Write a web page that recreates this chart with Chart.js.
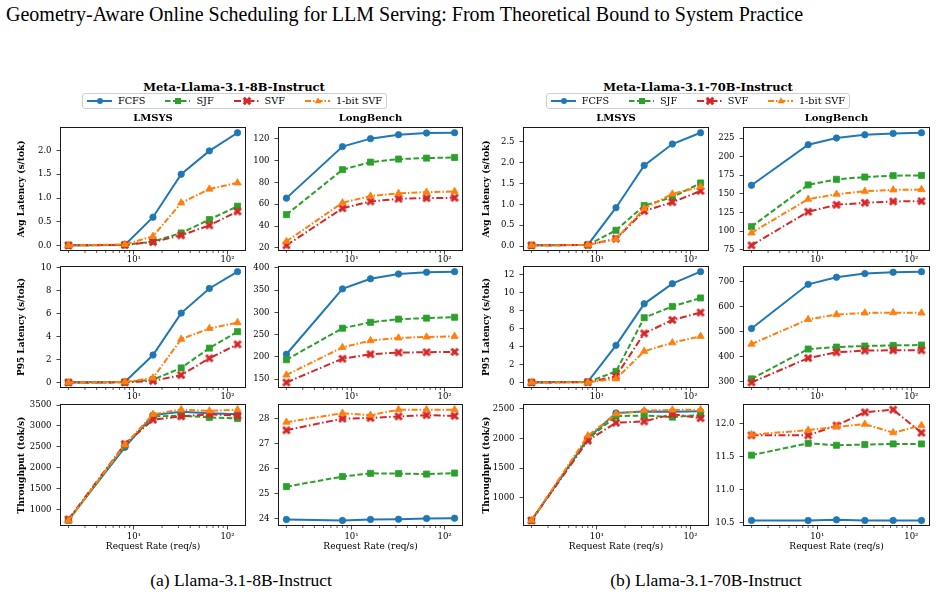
<!DOCTYPE html>
<html>
<head>
<meta charset="utf-8">
<script src="https://cdn.jsdelivr.net/npm/chart.js@4.4.1/dist/chart.umd.min.js"></script>
<style>
  body { margin: 0; background: #fff; width: 937px; height: 594px; position: relative; overflow: hidden; font-family: "DejaVu Serif", serif; color: #000; }
  .abs { position: absolute; white-space: nowrap; }
  #title { left: 6px; top: 3px; font-family: "Liberation Serif", "Times New Roman", serif; font-size: 20px; line-height: 22px; }
  .sup { font-weight: bold; font-size: 11.5px; line-height: 14px; transform: translateX(-50%); }
  .ptitle { font-weight: bold; font-size: 10px; line-height: 12px; transform: translateX(-50%); }
  .caption { font-family: "Liberation Serif", "Times New Roman", serif; font-size: 17.5px; line-height: 20px; transform: translateX(-50%); }
  .legend { display: flex; align-items: center; box-sizing: border-box; height: 16px; padding: 0 4px;
            border: 1px solid #d0d0d0; border-radius: 3px; background: #fff; font-size: 9.7px; gap: 6px; }
  .legend span { margin-right: 14px; }
  .legend span:last-child { margin-right: 0; }
  canvas { position: absolute; }
</style>
</head>
<body>
<div id="title" class="abs">Geometry-Aware Online Scheduling for LLM Serving: From Theoretical Bound to System Practice</div>
<script>
// ---- data ----
const rates = [2, 8, 16, 32, 64, 128];
const methods = ['FCFS', 'SJF', 'SVF', '1-bit SVF'];
const models = ['Meta-Llama-3.1-8B-Instruct', 'Meta-Llama-3.1-70B-Instruct'];
const captions = ['(a) Llama-3.1-8B-Instruct', '(b) Llama-3.1-70B-Instruct'];
const benchNames = ['LMSYS', 'LongBench'];
const metricLabels = ['Avg Latency (s/tok)', 'P95 Latency (s/tok)', 'Throughput (tok/s)'];
const xTickValues = [10, 100];
const xTickLabels = ['10\u00b9', '10\u00b2'];

// each: [FCFS, SJF, SVF, 1-bit SVF]
const avg8bLmsys = [
  [0.01, 0.02, 0.60, 1.50, 1.99, 2.37],
  [0.01, 0.02, 0.09, 0.27, 0.55, 0.83],
  [0.01, 0.02, 0.08, 0.22, 0.43, 0.72],
  [0.01, 0.03, 0.20, 0.90, 1.19, 1.32]
];
const avg8bLong = [
  [65.6, 112.7, 120.0, 123.6, 125.1, 125.4],
  [50.5, 91.6, 98.5, 101.3, 102.2, 102.8],
  [22.4, 56.3, 62.6, 65.0, 65.6, 65.9],
  [26.0, 61.4, 67.5, 70.0, 71.1, 71.7]
];
const p95_8bLmsys = [
  [0.02, 0.05, 2.39, 6.03, 8.17, 9.63],
  [0.01, 0.02, 0.25, 1.27, 2.99, 4.42],
  [0.01, 0.02, 0.15, 0.65, 2.11, 3.32],
  [0.01, 0.05, 0.40, 3.77, 4.70, 5.21]
];
const p95_8bLong = [
  [206, 352.6, 375.2, 386, 389.8, 391.3],
  [193.7, 264.4, 277.6, 284.8, 287, 289],
  [142.7, 196, 206, 209.8, 210.5, 211.2],
  [159.5, 221.4, 236.7, 242.6, 244.8, 246.2]
];
const tput8bLmsys = [
  [760, 2490, 3260, 3340, 3305, 3280],
  [750, 2530, 3230, 3245, 3205, 3180],
  [770, 2570, 3150, 3230, 3280, 3245],
  [745, 2550, 3280, 3390, 3360, 3390]
];
const tput8bLong = [
  [23.98, 23.94, 23.98, 23.99, 24.02, 24.03],
  [25.29, 25.69, 25.82, 25.81, 25.79, 25.83],
  [27.54, 28.00, 28.03, 28.09, 28.14, 28.11],
  [27.86, 28.22, 28.14, 28.36, 28.36, 28.36]
];
const avg70bLmsys = [
  [0.02, 0.03, 0.92, 1.93, 2.44, 2.71],
  [0.02, 0.03, 0.38, 0.97, 1.17, 1.51],
  [0.02, 0.03, 0.18, 0.84, 1.05, 1.32],
  [0.02, 0.03, 0.17, 0.90, 1.25, 1.42]
];
const avg70bLong = [
  [161.5, 216, 225, 229.4, 231.2, 232.1],
  [106, 162, 169.5, 172.6, 174.4, 174.8],
  [80.8, 126, 135.3, 138, 139.8, 140.2],
  [97.6, 142.9, 149.5, 153.5, 155.3, 155.8]
];
const p95_70bLmsys = [
  [0.05, 0.10, 4.16, 8.78, 11.02, 12.36],
  [0.03, 0.08, 1.26, 7.23, 8.49, 9.43],
  [0.03, 0.05, 0.72, 5.49, 6.98, 7.81],
  [0.03, 0.05, 0.43, 3.50, 4.45, 5.17]
];
const p95_70bLong = [
  [513, 689.6, 718, 732.5, 737.7, 740.3],
  [311.7, 431, 439, 443, 445.5, 446.8],
  [297.4, 394.8, 418, 424.7, 426, 426],
  [450.6, 549.4, 568.8, 575.3, 576.6, 575.3]
];
const tput70bLmsys = [
  [615, 2003, 2434, 2456, 2455, 2460],
  [615, 1990, 2379, 2390, 2362, 2400],
  [615, 1965, 2268, 2290, 2412, 2345],
  [615, 2048, 2417, 2472, 2483, 2489]
];
const tput70bLong = [
  [10.53, 10.53, 10.54, 10.53, 10.53, 10.53],
  [11.52, 11.70, 11.67, 11.68, 11.69, 11.69],
  [11.82, 11.82, 11.97, 12.17, 12.21, 11.86],
  [11.83, 11.90, 11.95, 11.99, 11.86, 11.97]
];

// y tick labels per panel
const yTicksAvg8bLmsys = [0, 0.5, 1, 1.5, 2];
const yTicksAvg8bLong = [20, 40, 60, 80, 100, 120];
const yTicksP95_8bLmsys = [0, 2, 4, 6, 8, 10];
const yTicksP95_8bLong = [150, 200, 250, 300, 350, 400];
const yTicksTput8bLmsys = [1000, 1500, 2000, 2500, 3000, 3500];
const yTicksTput8bLong = [24, 25, 26, 27, 28];
const yTicksAvg70bLmsys = [0, 0.5, 1, 1.5, 2, 2.5];
const yTicksAvg70bLong = [75, 100, 125, 150, 175, 200, 225];
const yTicksP95_70bLmsys = [0, 2, 4, 6, 8, 10, 12];
const yTicksP95_70bLong = [300, 400, 500, 600, 700];
const yTicksTput70bLmsys = [1000, 1500, 2000, 2500];
const yTicksTput70bLong = [10.5, 11.0, 11.5, 12.0];

// ---- styling ----
const colors = ['#1f77b4', '#2ca02c', '#d62728', '#ff7f0e'];
const dashes = [[], [5.5, 2.5], [7, 2.5, 1.5, 2.5], [6, 2, 1.5, 2]];
const FONT = '"DejaVu Serif", serif';

function xMarker(color) {
  const c = document.createElement('canvas');
  c.width = c.height = 10;
  const g = c.getContext('2d');
  g.fillStyle = color;
  g.translate(5, 5);
  g.rotate(Math.PI / 4);
  g.fillRect(-4.6, -1.5, 9.2, 3);
  g.fillRect(-1.5, -4.6, 3, 9.2);
  return c;
}
const pointStyles = ['circle', 'rect', xMarker(colors[2]), 'triangle'];
const pointRadii = [3.2, 4.3, 4, 4.2];

// geometry: [group][col] left,width ; rows top,height
const colBoxes = [[[60, 186], [278, 185]], [[523, 186], [743, 187]]];
const rowBoxes = [[125, 126], [264, 124], [402, 124]];
const yLabelX = [22, 487];
const supX = [234, 698];
const captionX = [241, 706];
const legendBox = [[82, 305], [546, 304]];

const panelData = [
  [[avg8bLmsys, yTicksAvg8bLmsys, 1], [avg8bLong, yTicksAvg8bLong, 0]],
  [[p95_8bLmsys, yTicksP95_8bLmsys, 0], [p95_8bLong, yTicksP95_8bLong, 0]],
  [[tput8bLmsys, yTicksTput8bLmsys, 0], [tput8bLong, yTicksTput8bLong, 0]],
  [[avg70bLmsys, yTicksAvg70bLmsys, 1], [avg70bLong, yTicksAvg70bLong, 0]],
  [[p95_70bLmsys, yTicksP95_70bLmsys, 0], [p95_70bLong, yTicksP95_70bLong, 0]],
  [[tput70bLmsys, yTicksTput70bLmsys, 0], [tput70bLong, yTicksTput70bLong, 1]]
];

const lr = [Math.log10(rates[0]), Math.log10(rates[rates.length - 1])];
const xMin = Math.pow(10, lr[0] - 0.05 * (lr[1] - lr[0]));
const xMax = Math.pow(10, lr[1] + 0.05 * (lr[1] - lr[0]));
const minorTicks = [];
[1, 10, 100].forEach(d => { for (let k = 2; k <= 9; k++) minorTicks.push(k * d); });

const framePlugin = {
  id: 'frame',
  afterDraw(chart) {
    const { ctx, chartArea: a } = chart;
    const x = chart.scales.x;
    ctx.save();
    ctx.strokeStyle = '#1a1a1a';
    ctx.lineWidth = 1;
    ctx.strokeRect(Math.round(a.left) + 0.5, Math.round(a.top) + 0.5, Math.round(a.width) - 1, Math.round(a.height) - 1);
    ctx.lineWidth = 0.7;
    ctx.beginPath();
    minorTicks.forEach(v => {
      if (v < xMin || v > xMax) return;
      const px = x.getPixelForValue(v);
      ctx.moveTo(px, a.bottom);
      ctx.lineTo(px, a.bottom + 2);
    });
    ctx.stroke();
    ctx.restore();
  }
};

function addDiv(cls, text, left, top, extra) {
  const d = document.createElement('div');
  d.className = 'abs ' + cls;
  d.textContent = text;
  d.style.left = left + 'px';
  d.style.top = top + 'px';
  if (extra) Object.assign(d.style, extra);
  document.body.appendChild(d);
  return d;
}

function legendSvg(i) {
  const c = colors[i];
  const dash = dashes[i].length ? `stroke-dasharray="${dashes[i].join(',')}"` : '';
  let mk = '';
  if (i === 0) mk = `<circle cx="13" cy="5" r="3" fill="${c}"/>`;
  if (i === 1) mk = `<rect x="10" y="2" width="6" height="6" fill="${c}"/>`;
  if (i === 2) mk = `<g transform="translate(13,5) rotate(45)" fill="${c}"><rect x="-4.6" y="-1.5" width="9.2" height="3"/><rect x="-1.5" y="-4.6" width="3" height="9.2"/></g>`;
  if (i === 3) mk = `<polygon points="13,1.2 16.5,7.2 9.5,7.2" fill="${c}"/>`;
  return `<svg width="26" height="10"><line x1="0" y1="5" x2="26" y2="5" stroke="${c}" stroke-width="2" ${dash}/>${mk}</svg>`;
}

function makePanel(group, row, col) {
  const [vals, yTicks, dec] = panelData[group * 3 + row][col];
  const [left, w] = colBoxes[group][col];
  const [top, h] = rowBoxes[row];
  const padL = col === 0 ? 60 : 40;
  const padT = 8, padR = 6;
  const padB = row === 2 ? 28 : 14;
  const cv = document.createElement('canvas');
  cv.width = padL + w + padR;
  cv.height = padT + h + padB;
  cv.style.left = (left - padL) + 'px';
  cv.style.top = (top - padT) + 'px';
  document.body.appendChild(cv);

  let lo = Infinity, hi = -Infinity;
  vals.forEach(s => s.forEach(v => { lo = Math.min(lo, v); hi = Math.max(hi, v); }));
  const m = 0.05 * (hi - lo);

  const datasets = vals.map((s, i) => ({
    label: methods[i],
    data: s.map((v, j) => ({ x: rates[j], y: v })),
    borderColor: colors[i],
    backgroundColor: colors[i],
    borderWidth: 2,
    borderDash: dashes[i],
    pointStyle: pointStyles[i],
    pointRadius: pointRadii[i],
    pointBorderWidth: 0.8,
    tension: 0,
    order: 3 - i
  }));

  const tickFont = { family: FONT, size: 8.5 };
  new Chart(cv, {
    type: 'line',
    data: { datasets },
    options: {
      responsive: false,
      animation: false,
      devicePixelRatio: 1,
      layout: { padding: { top: padT, right: padR, left: 0, bottom: 0 } },
      plugins: { legend: { display: false }, tooltip: { enabled: false } },
      scales: {
        x: {
          type: 'logarithmic',
          min: xMin, max: xMax,
          afterFit: s => { s.height = padB; },
          afterBuildTicks: s => { s.ticks = xTickValues.map(v => ({ value: v })); },
          ticks: {
            autoSkip: false, maxRotation: 0, padding: row === 2 ? 2.5 : 0,
            color: '#000', font: tickFont,
            callback: v => xTickLabels[xTickValues.indexOf(v)]
          },
          grid: { drawOnChartArea: false, tickLength: 3.5, color: '#1a1a1a', lineWidth: 0.8 },
          border: { display: false },
          title: {
            display: row === 2, text: 'Request Rate (req/s)', color: '#000',
            font: { family: FONT, size: 9 }, padding: { top: 0, bottom: 1.5 }
          }
        },
        y: {
          min: lo - m, max: hi + m,
          afterFit: s => { s.width = padL; },
          afterBuildTicks: s => { s.ticks = yTicks.map(v => ({ value: v })); },
          ticks: {
            autoSkip: false, padding: 5, color: '#000', font: tickFont,
            callback: v => v.toFixed(dec)
          },
          grid: { drawOnChartArea: false, tickLength: 3.5, color: '#1a1a1a', lineWidth: 0.8 },
          border: { display: false },
          title: {
            display: col === 0, text: metricLabels[row], color: '#000',
            font: { family: FONT, size: 9, weight: 'bold' },
            padding: { top: yLabelX[group] - (left - padL) - 5.4, bottom: 0 }
          }
        }
      }
    },
    plugins: [framePlugin]
  });

  if (row === 0) {
    addDiv('ptitle', benchNames[col], left + w / 2, 111.5);
  }
}

for (let g = 0; g < 2; g++) {
  addDiv('sup', models[g], supX[g], 79.5);
  const lg = addDiv('legend', '', legendBox[g][0], 92.5, { width: legendBox[g][1] + 'px' });
  lg.innerHTML = methods.map((name, i) => legendSvg(i) + `<span>${name}</span>`).join('');
  addDiv('caption', captions[g], captionX[g], 569.5);
  for (let r = 0; r < 3; r++) for (let c = 0; c < 2; c++) makePanel(g, r, c);
}
</script>
</body>
</html>
